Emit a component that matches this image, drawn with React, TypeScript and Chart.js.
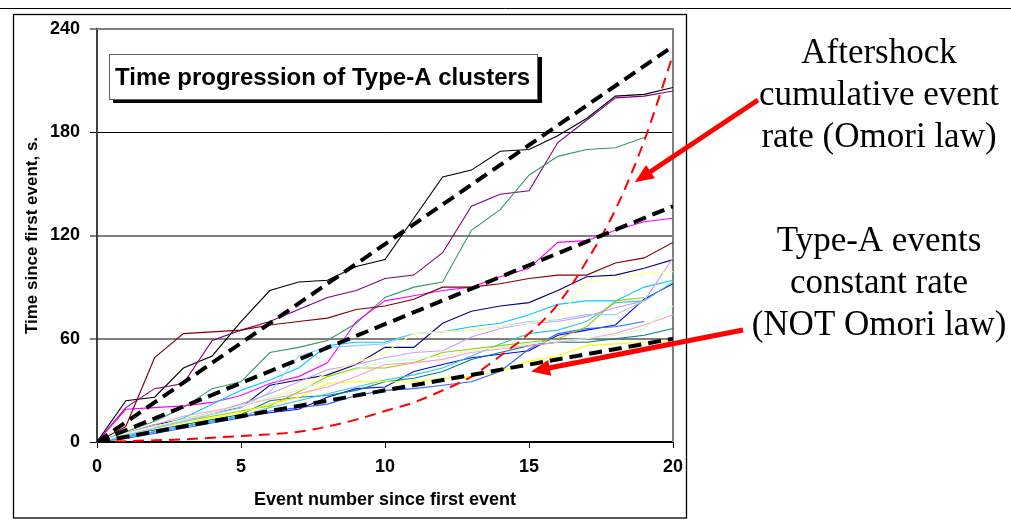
import { useEffect, useRef } from "react";
import { Chart, registerables } from "chart.js";

Chart.register(...registerables);

// ---- data ----
const EVENT_NUMBERS = [0, 1, 2, 3, 4, 5, 6, 7, 8, 9, 10, 11, 12, 13, 14, 15, 16, 17, 18, 19, 20];

const BLACK = [0, 24, 26, 43, 50, 70, 88, 93, 94, 102, 106, 130, 154, 158, 169, 170, 178, 188, 201, 202, 206];
const PURPLE = [0, 20, 31, 34, 59, 65, 70, 77, 84, 88, 95, 97, 110, 137, 144, 146, 174, 187, 200, 201, 204];
const SEAGREEN = [0, 6, 12, 20, 31, 35, 52, 55, 59, 69, 84, 90, 93, 123, 135, 155, 166, 170, 171, 177];
const MAROON = [0, 9, 49, 63, 64, 65, 68, 70, 72, 77, 79, 83, 90, 90, 92, 95, 97, 97, 104, 107, 116];
const MAGENTA = [0, 19, 20, 21, 23, 27, 34, 38, 46, 70, 82, 85, 88, 90, 96, 101, 116, 117, 123, 128, 130];
const NAVY = [0, 5, 10, 13, 17, 20, 33, 36, 39, 45, 55, 55, 69, 76, 79, 81, 88, 96, 97, 101, 106];
const SKYBLUE = [0, 3, 8, 14, 22, 30, 36, 43, 56, 58, 58, 63, 64, 67, 69, 74, 80, 82, 82, 90, 94];
const PALEBLUE = [0, 4, 8, 12, 16, 20, 29, 50, 55, 56, 57, 63, 64, 65, 67, 70, 71, 74, 74, 82];
const LAVENDER = [0, 4, 8, 12, 17, 22, 28, 35, 42, 45, 49, 52, 53, 61, 66, 69, 70, 73, 78, 82, 107];
const LIGHTYELLOW = [0, 5, 9, 13, 17, 21, 26, 32, 40, 46, 52, 63, 64, 65, 67, 69, 72, 93, 96, 98, 99];
const YELLOW = [0, 4, 8, 11, 14, 17, 22, 26, 34, 35, 35, 35, 37, 38, 41, 47, 50, 56, 57, 58, 59];
const YELLOWGREEN = [0, 5, 9, 12, 15, 18, 21, 29, 38, 43, 43, 46, 52, 54, 56, 58, 60, 67, 82, 84];
const TEAL = [0, 4, 7, 10, 13, 16, 24, 26, 27, 30, 35, 37, 41, 48, 52, 56, 58, 58, 60, 62, 66];
const TURQUOISE = [0, 3, 6, 9, 12, 15, 20, 24, 28, 32, 36, 39, 43, 50, 57, 63, 65, 70, 81, 82, 93];
const BLUE = [0, 3, 6, 9, 12, 15, 17, 19, 26, 31, 32, 41, 45, 49, 51, 53, 62, 65, 68, 83, 92];
const ROYAL = [0, 2, 5, 8, 11, 14, 18, 20, 22, 27, 30, 31, 33, 35, 41, 54, 63, 66, 67, 70];
const ROSE = [0, 5, 10, 15, 18, 21, 25, 28, 32, 38, 45, 46, 48, 52, 54, 56, 58, 60, 63, 68, 74];
const LIGHTGREEN = [0, 5, 9, 13, 17, 21, 26, 30, 36, 42, 47, 48, 50, 53, 55, 57, 59, 60, 62, 66, 79];

const OMORI = [0, 0.5, 1, 1.5, 2.5, 3.5, 4.5, 6, 9, 13, 18, 23, 30, 38, 50, 63, 80, 105, 135, 175, 225];

const TREND_X = [0, 20];
const TREND_STEEP = [0, 230];
const TREND_MID = [0, 137];
const TREND_LOW = [0, 60];

const X_TICKS = [0, 5, 10, 15, 20];
const Y_TICKS = [0, 60, 120, 180, 240];

const CHART_TITLE = "Time progression of Type-A clusters";
const X_TITLE = "Event number since first event";
const Y_TITLE = "Time since first event, s.";
const NOTE_OMORI = ["Aftershock", "cumulative event", "rate (Omori law)"];
const NOTE_CONST = ["Type-A events", "constant rate", "(NOT Omori law)"];

const THIN: [number[], string][] = [
  [LIGHTGREEN, "#CCFFCC"],
  [ROSE, "#FF99CC"],
  [LIGHTYELLOW, "#FFFF99"],
  [PALEBLUE, "#99CCFF"],
  [LAVENDER, "#CC99FF"],
  [YELLOW, "#FFFF00"],
  [YELLOWGREEN, "#99CC00"],
  [TURQUOISE, "#33CCCC"],
  [TEAL, "#008080"],
  [SKYBLUE, "#00CCFF"],
  [ROYAL, "#3366FF"],
  [BLUE, "#0000FF"],
  [NAVY, "#000080"],
  [MAROON, "#800000"],
  [MAGENTA, "#FF00FF"],
  [SEAGREEN, "#339966"],
  [PURPLE, "#800080"],
  [BLACK, "#000000"],
];

const SANS = "'Liberation Sans', Arial, sans-serif";
const SERIF = "'Liberation Serif', 'Times New Roman', serif";

const pts = (vals: number[]) => vals.map((v, i) => ({ x: EVENT_NUMBERS[i], y: v }));
const pts2 = (xs: number[], ys: number[]) => xs.map((x, i) => ({ x, y: ys[i] }));

function drawArrow(ctx: CanvasRenderingContext2D, x1: number, y1: number, x2: number, y2: number) {
  const ang = Math.atan2(y2 - y1, x2 - x1);
  const headLen = 19;
  const headW = 8;
  const bx = x2 - headLen * Math.cos(ang);
  const by = y2 - headLen * Math.sin(ang);
  ctx.strokeStyle = "#FF0000";
  ctx.fillStyle = "#FF0000";
  ctx.lineWidth = 5;
  ctx.lineCap = "butt";
  ctx.beginPath();
  ctx.moveTo(x1, y1);
  ctx.lineTo(bx + 2 * Math.cos(ang), by + 2 * Math.sin(ang));
  ctx.stroke();
  ctx.beginPath();
  ctx.moveTo(x2, y2);
  ctx.lineTo(bx + headW * Math.sin(ang), by - headW * Math.cos(ang));
  ctx.lineTo(bx - headW * Math.sin(ang), by + headW * Math.cos(ang));
  ctx.closePath();
  ctx.fill();
}

const decorPlugin = {
  id: "decor",
  beforeDatasetsDraw(chart: any) {
    const { ctx, chartArea } = chart;
    const { left, right, top, bottom } = chartArea;
    ctx.save();
    ctx.strokeStyle = "#808080";
    ctx.lineWidth = 2;
    ctx.beginPath();
    ctx.moveTo(left, top);
    ctx.lineTo(right, top);
    ctx.lineTo(right, bottom);
    ctx.stroke();
    ctx.restore();
  },
  afterDraw(chart: any) {
    const { ctx } = chart;
    const xs = chart.scales.x;
    const ys = chart.scales.y;
    ctx.save();
    // outer frame lines
    ctx.strokeStyle = "#000";
    ctx.lineWidth = 1;
    ctx.beginPath();
    ctx.moveTo(0, 8.5);
    ctx.lineTo(1011, 8.5);
    ctx.stroke();
    ctx.lineWidth = 1.3;
    ctx.strokeRect(13.5, 14.5, 673, 503.5);

    // title box with shadow
    ctx.fillStyle = "#000";
    ctx.fillRect(113, 57, 429, 46);
    ctx.fillStyle = "#fff";
    ctx.fillRect(109, 54, 429, 46);
    ctx.strokeStyle = "#606060";
    ctx.lineWidth = 1;
    ctx.strokeRect(109.5, 54.5, 428, 45);
    ctx.fillStyle = "#000";
    ctx.font = `bold 24px ${SANS}`;
    ctx.textAlign = "left";
    ctx.textBaseline = "alphabetic";
    ctx.fillText(CHART_TITLE, 115, 85);

    // notes
    ctx.font = `35px ${SERIF}`;
    ctx.textAlign = "center";
    const b1 = [63, 105, 147];
    NOTE_OMORI.forEach((t, i) => ctx.fillText(t, 879, b1[i]));
    const b2 = [251, 293, 335];
    NOTE_CONST.forEach((t, i) => ctx.fillText(t, 879, b2[i]));

    // arrows pointing at the curves
    drawArrow(ctx, 758, 100, xs.getPixelForValue(18.67), ys.getPixelForValue(151));
    drawArrow(ctx, 743, 330, xs.getPixelForValue(15.07), ys.getPixelForValue(41));
    ctx.restore();
  },
};

export default function App() {
  const ref = useRef<HTMLCanvasElement>(null);

  useEffect(() => {
    if (!ref.current) return;
    const datasets: any[] = [];
    datasets.push({
      data: pts2(TREND_X, TREND_STEEP),
      borderColor: "#000",
      borderWidth: 4,
      borderDash: [13, 7],
      order: 0,
    });
    datasets.push({
      data: pts2(TREND_X, TREND_MID),
      borderColor: "#000",
      borderWidth: 4,
      borderDash: [13, 7],
      order: 0,
    });
    datasets.push({
      data: pts2(TREND_X, TREND_LOW),
      borderColor: "#000",
      borderWidth: 4,
      borderDash: [13, 7],
      order: 0,
    });
    datasets.push({
      data: pts(OMORI),
      borderColor: "#FF0000",
      borderWidth: 2,
      borderDash: [11, 7],
      cubicInterpolationMode: "monotone",
      order: 1,
    });
    THIN.forEach(([vals, color]) => {
      datasets.push({
        data: pts(vals),
        borderColor: color,
        borderWidth: 1.1,
        order: 2,
      });
    });

    const tickFont = { family: SANS, size: 18, weight: "bold" as const };

    const chart = new Chart(ref.current, {
      type: "line",
      data: { datasets },
      plugins: [decorPlugin],
      options: {
        animation: false,
        responsive: false,
        maintainAspectRatio: false,
        layout: { padding: { left: 17, right: 338, top: 29, bottom: 8 } },
        plugins: { legend: { display: false }, tooltip: { enabled: false } },
        elements: { point: { radius: 0 }, line: { tension: 0, fill: false } },
        scales: {
          x: {
            type: "linear",
            min: X_TICKS[0],
            max: X_TICKS[X_TICKS.length - 1],
            afterBuildTicks: (s: any) => {
              s.ticks = X_TICKS.map((v) => ({ value: v }));
            },
            ticks: { font: tickFont, color: "#000", padding: 8, maxRotation: 0 },
            grid: { drawOnChartArea: false, drawTicks: true, tickLength: 6, tickColor: "#000", tickWidth: 1 },
            border: { display: true, color: "#000", width: 1.5 },
            title: {
              display: true,
              text: X_TITLE,
              font: { family: SANS, size: 18, weight: "bold" },
              color: "#000",
              padding: { top: 4, bottom: 4 },
            },
            afterFit: (s: any) => {
              s.height = 73;
            },
          },
          y: {
            type: "linear",
            min: Y_TICKS[0],
            max: Y_TICKS[Y_TICKS.length - 1],
            afterBuildTicks: (s: any) => {
              s.ticks = Y_TICKS.map((v) => ({ value: v }));
            },
            ticks: { font: tickFont, color: "#000", padding: 10 },
            grid: {
              color: (c: any) => (c.tick && (c.tick.value === 180 || c.tick.value === 0) ? "#000" : "#808080"),
              lineWidth: (c: any) => (c.tick && (c.tick.value === 180 || c.tick.value === 0) ? 1 : 2),
              tickColor: "#000",
              tickLength: 7,
              tickWidth: 1,
            },
            border: { display: true, color: "#404040", width: 2 },
            title: {
              display: true,
              text: Y_TITLE,
              font: { family: SANS, size: 17, weight: "bold" },
              color: "#000",
              padding: { top: 5, bottom: 4 },
            },
            afterFit: (s: any) => {
              s.width = 80;
            },
          },
        },
      },
    } as any);
    return () => chart.destroy();
  }, []);

  return (
    <div style={{ position: "absolute", left: 0, top: 0, width: 1011, height: 523, background: "#fff" }}>
      <canvas ref={ref} width={1011} height={523} style={{ display: "block", width: 1011, height: 523 }} />
    </div>
  );
}
